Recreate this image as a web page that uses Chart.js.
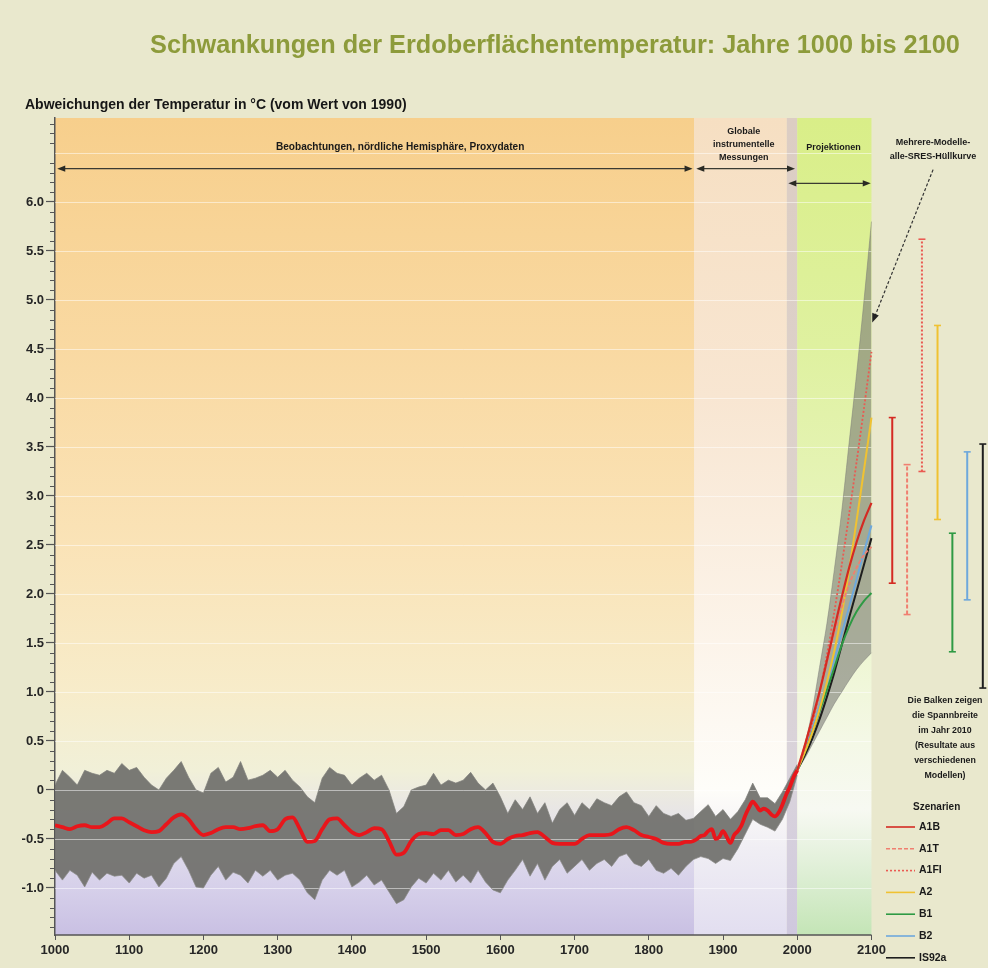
<!DOCTYPE html>
<html lang="de">
<head>
<meta charset="utf-8">
<title>Schwankungen der Erdoberflächentemperatur: Jahre 1000 bis 2100</title>
<script src="https://cdn.jsdelivr.net/npm/chart.js@4.4.1/dist/chart.umd.min.js"></script>
<style>
  html, body { margin: 0; padding: 0; background: #e9e8cd; }
  #wrap { width: 988px; height: 968px; }
</style>
</head>
<body>
<div id="wrap"><canvas id="chart" width="988" height="968"></canvas></div>
<script>
// ---------- data ----------
// Proxy / instrumental uncertainty band, every 10 years from 1000 to 2000
const bandStart = 1000, bandStep = 10;
const bandUpper = [
  0.05, 0.20, 0.13, 0.05, 0.20, 0.17, 0.15, 0.20, 0.17, 0.27,
  0.20, 0.23, 0.13, 0.05, 0.00, 0.12, 0.20, 0.29, 0.13, 0.00,
  -0.03, 0.17, 0.23, 0.08, 0.13, 0.29, 0.10, 0.12, 0.15, 0.20,
  0.13, 0.20, 0.10, 0.03, -0.07, -0.13, 0.12, 0.23, 0.17, 0.15,
  0.05, 0.12, 0.17, 0.10, 0.15, 0.00, -0.24, -0.17, 0.00, 0.03,
  0.05, 0.17, 0.05, 0.10, 0.07, 0.10, 0.18, 0.07, 0.00, 0.07,
  -0.07, -0.24, -0.10, -0.20, -0.07, -0.24, -0.13, -0.34, -0.20, -0.13,
  -0.26, -0.13, -0.20, -0.09, -0.13, -0.16, -0.07, -0.02, -0.13, -0.16,
  -0.27, -0.16, -0.24, -0.27, -0.24, -0.31, -0.29, -0.22, -0.15, -0.27,
  -0.20, -0.30, -0.22, -0.10, 0.07, -0.08, -0.08, -0.14, -0.02, 0.12,
  0.26
];
const bandLower = [
  -0.82, -0.92, -0.82, -0.87, -0.99, -0.84, -0.92, -0.85, -0.88, -0.87,
  -0.95, -0.85, -0.90, -0.87, -0.99, -0.90, -0.75, -0.68, -0.82, -0.99,
  -1.00, -0.87, -0.78, -0.92, -0.84, -0.87, -0.95, -0.82, -0.88, -0.82,
  -0.92, -0.87, -0.85, -0.92, -1.05, -1.12, -0.92, -0.82, -0.87, -0.82,
  -0.99, -0.94, -0.87, -0.97, -0.92, -1.04, -1.16, -1.12, -0.99, -0.90,
  -0.95, -0.85, -0.92, -0.82, -0.94, -0.87, -0.95, -0.82, -0.94, -1.02,
  -1.05, -0.92, -0.82, -0.71, -0.88, -0.75, -0.92, -0.78, -0.71, -0.85,
  -0.78, -0.71, -0.82, -0.75, -0.71, -0.78, -0.68, -0.65, -0.75, -0.78,
  -0.71, -0.82, -0.85, -0.80, -0.87, -0.78, -0.71, -0.68, -0.70, -0.75,
  -0.70, -0.72, -0.60, -0.45, -0.30, -0.35, -0.38, -0.42, -0.30, -0.12,
  0.15
];

// Smoothed northern-hemisphere reconstruction, every 10 years 1000–1850
const smoothStart = 1000, smoothStep = 10;
const proxySmooth = [
  -0.36, -0.38, -0.40, -0.37, -0.36, -0.38, -0.38, -0.34, -0.29, -0.29,
  -0.33, -0.37, -0.41, -0.43, -0.42, -0.35, -0.28, -0.25, -0.30, -0.40,
  -0.46, -0.44, -0.40, -0.38, -0.38, -0.40, -0.39, -0.37, -0.36, -0.42,
  -0.40, -0.30, -0.28, -0.40, -0.53, -0.52, -0.40, -0.30, -0.29, -0.36,
  -0.43, -0.46, -0.43, -0.39, -0.40, -0.52, -0.66, -0.64, -0.52, -0.45,
  -0.44, -0.45, -0.41, -0.41, -0.46, -0.45, -0.40, -0.38, -0.44, -0.53,
  -0.55, -0.50, -0.47, -0.46, -0.44, -0.43, -0.48, -0.54, -0.55, -0.55,
  -0.55, -0.50, -0.46, -0.46, -0.46, -0.45, -0.40, -0.38, -0.41, -0.46,
  -0.48, -0.50, -0.54, -0.55, -0.55, -0.53
];
// Global instrumental record, every 5 years 1855–2000
const instrStart = 1855, instrStep = 5;
const instrSmooth = [
  -0.53, -0.52, -0.50, -0.47, -0.46, -0.42, -0.40, -0.50, -0.48, -0.42,
  -0.48, -0.54, -0.46, -0.42, -0.36, -0.26, -0.18, -0.12, -0.16, -0.21,
  -0.19, -0.21, -0.25, -0.27, -0.23, -0.15, -0.05, 0.03, 0.13, 0.20
];

// Projections 2000–2100
const projYears = [2000, 2010, 2020, 2030, 2040, 2050, 2060, 2070, 2080, 2090, 2100];
const envUpper = [0.20, 0.45, 0.80, 1.25, 1.70, 2.25, 2.85, 3.55, 4.25, 5.00, 5.80];
const envLower = [0.20, 0.32, 0.46, 0.60, 0.74, 0.88, 1.00, 1.12, 1.23, 1.32, 1.40];

const scenarios = ['A1B', 'A1T', 'A1FI', 'A2', 'B1', 'B2', 'IS92a'];
const projA1B  = [0.20, 0.45, 0.72, 1.00, 1.32, 1.65, 1.97, 2.27, 2.53, 2.75, 2.93];
const projA1T  = [0.20, 0.45, 0.72, 1.00, 1.30, 1.60, 1.87, 2.10, 2.27, 2.40, 2.48];
const projA1FI = [0.20, 0.42, 0.68, 1.00, 1.38, 1.82, 2.30, 2.82, 3.35, 3.90, 4.47];
const projA2   = [0.20, 0.38, 0.58, 0.82, 1.10, 1.42, 1.80, 2.25, 2.75, 3.27, 3.80];
const projB1   = [0.20, 0.38, 0.58, 0.80, 1.02, 1.25, 1.48, 1.67, 1.82, 1.93, 2.01];
const projB2   = [0.20, 0.40, 0.62, 0.85, 1.08, 1.33, 1.60, 1.87, 2.15, 2.43, 2.70];
const projIS92a = [0.20, 0.35, 0.52, 0.72, 0.95, 1.20, 1.48, 1.76, 2.03, 2.30, 2.57];
const projections = [projA1B, projA1T, projA1FI, projA2, projB1, projB2, projIS92a];

// Model spread per scenario (range bars right of the axis)
const rangeYear = [2128, 2148, 2168, 2189, 2209, 2229, 2250];
const rangeLow  = [2.11, 1.79, 3.25, 2.76, 1.41, 1.94, 1.04];
const rangeHigh = [3.80, 3.32, 5.62, 4.74, 2.62, 3.45, 3.53];

// Axis ticks
const xTickYears = [1000, 1100, 1200, 1300, 1400, 1500, 1600, 1700, 1800, 1900, 2000, 2100];
const yTickValues = [-1.0, -0.5, 0, 0.5, 1.0, 1.5, 2.0, 2.5, 3.0, 3.5, 4.0, 4.5, 5.0, 5.5, 6.0];

// ---------- styles ----------
const FONT = '"Liberation Sans", Arial, Helvetica, sans-serif';
const scenarioStyle = {
  'A1B':   { color: '#d42a22', dash: [],     width: 2.2 },
  'A1T':   { color: '#f07f70', dash: [4, 2], width: 1.8 },
  'A1FI':  { color: '#ea5a52', dash: [2, 2], width: 1.8 },
  'A2':    { color: '#f0c232', dash: [],     width: 2.0 },
  'B1':    { color: '#2e9a44', dash: [],     width: 2.0 },
  'B2':    { color: '#6ea8dc', dash: [],     width: 2.0 },
  'IS92a': { color: '#1e1e1e', dash: [],     width: 2.0 }
};

// ---------- datasets ----------
const seq = (start, step, arr) => arr.map((v, i) => ({ x: start + i * step, y: v }));
const pairs = (xs, ys) => ys.map((v, i) => ({ x: xs[i], y: v }));

const datasets = [];
datasets.push({
  label: 'Geglättete Temperatur',
  data: seq(smoothStart, smoothStep, proxySmooth).concat(seq(instrStart, instrStep, instrSmooth)),
  borderColor: '#e8161b', borderWidth: 3.8, pointRadius: 0,
  cubicInterpolationMode: 'monotone', fill: false, order: 1
});
scenarios.forEach((s, i) => {
  const st = scenarioStyle[s];
  datasets.push({
    label: s, data: pairs(projYears, projections[i]),
    borderColor: st.color, borderDash: st.dash, borderWidth: st.width,
    pointRadius: 0, tension: 0.3, fill: false, order: 2
  });
});
scenarios.forEach((s, i) => {
  const st = scenarioStyle[s];
  datasets.push({
    label: s + ' Spannbreite',
    data: [{ x: rangeYear[i], y: rangeLow[i] }, { x: rangeYear[i], y: rangeHigh[i] }],
    borderColor: st.color, borderDash: st.dash, borderWidth: 2,
    pointStyle: 'line', pointRadius: 3.5, pointBorderWidth: 1.6,
    pointBorderColor: st.color, pointBackgroundColor: st.color,
    fill: false, order: 2, clip: false
  });
});
datasets.push({
  label: 'Hüllkurve oben', data: pairs(projYears, envUpper),
  borderColor: 'rgba(120,120,118,0.6)', borderWidth: 0.8, pointRadius: 0, tension: 0.3,
  backgroundColor: 'rgba(118,118,114,0.58)', fill: '+1', order: 5
});
datasets.push({
  label: 'Hüllkurve unten', data: pairs(projYears, envLower),
  borderColor: 'rgba(120,120,118,0.6)', borderWidth: 0.8, pointRadius: 0, tension: 0.3,
  fill: false, order: 5
});
datasets.push({
  label: 'Band oben', data: seq(bandStart, bandStep, bandUpper),
  borderColor: 'rgba(128,128,124,0.9)', borderWidth: 0.8, pointRadius: 0,
  backgroundColor: 'rgba(112,112,108,0.93)', fill: '+1', order: 6
});
datasets.push({
  label: 'Band unten', data: seq(bandStart, bandStep, bandLower),
  borderColor: 'rgba(140,140,136,0.9)', borderWidth: 0.8, pointRadius: 0,
  fill: false, order: 6
});

// ---------- background zones (value -> colour stops) ----------
const zones = [
  { from: 1000, to: 1861, stops: [[6.86, '#f7cf8c'], [4.5, '#f9d9a2'], [2.5, '#fae3b7'], [1.0, '#f7ecca'], [0.2, '#f1f0d8'], [-0.4, '#e4e1ec'], [-1.0, '#d6d0ea'], [-1.48, '#c9c0e3']] },
  { from: 1861, to: 1986, stops: [[6.86, '#f6dfc2'], [4.0, '#f8e6d2'], [1.5, '#fcf4ea'], [0.0, '#fefdf9'], [-0.6, '#f0eef4'], [-1.48, '#e2def0']] },
  { from: 1986, to: 2000, stops: [[6.86, '#dccdc3'], [3.0, '#ddd2cc'], [0.0, '#d9d3dc'], [-1.48, '#cfc8de']] },
  { from: 2000, to: 2100, stops: [[6.86, '#d9ee88'], [4.5, '#dff1a0'], [2.0, '#eaf5c6'], [0.5, '#f4f8e6'], [-0.2, '#f7f9f2'], [-0.7, '#e4f1dc'], [-1.48, '#c4e5b6']] }
];

function drawText(ctx, str, x, y, size, align, color) {
  ctx.font = 'bold ' + size + 'px ' + FONT;
  ctx.fillStyle = color || '#1a1a1a';
  ctx.textAlign = align || 'center';
  ctx.textBaseline = 'middle';
  ctx.fillText(str, x, y);
}
function arrowHead(ctx, x, y, angle, len, half) {
  ctx.save();
  ctx.translate(x, y);
  ctx.rotate(angle);
  ctx.beginPath();
  ctx.moveTo(0, 0);
  ctx.lineTo(-len, -half);
  ctx.lineTo(-len, half);
  ctx.closePath();
  ctx.fill();
  ctx.restore();
}
function doubleArrow(ctx, x1, x2, y) {
  ctx.save();
  ctx.strokeStyle = '#3a3a32'; ctx.fillStyle = '#2a2a24'; ctx.lineWidth = 1.2;
  ctx.beginPath(); ctx.moveTo(x1 + 4, y); ctx.lineTo(x2 - 4, y); ctx.stroke();
  arrowHead(ctx, x2, y, 0, 8, 3.2);
  arrowHead(ctx, x1, y, Math.PI, 8, 3.2);
  ctx.restore();
}

const decor = {
  id: 'decor',
  beforeDraw(chart) {
    const { ctx, scales: { x, y }, chartArea: ca } = chart;
    ctx.save();
    ctx.fillStyle = '#e9e8cd';
    ctx.fillRect(0, 0, chart.width, chart.height);
    zones.forEach(z => {
      const x1 = x.getPixelForValue(z.from), x2 = x.getPixelForValue(z.to);
      const g = ctx.createLinearGradient(0, ca.top, 0, ca.bottom);
      z.stops.forEach(([v, c]) => {
        const f = (y.getPixelForValue(v) - ca.top) / (ca.bottom - ca.top);
        g.addColorStop(Math.min(1, Math.max(0, f)), c);
      });
      ctx.fillStyle = g;
      ctx.fillRect(x1, ca.top, x2 - x1, ca.bottom - ca.top);
    });
    ctx.restore();
  },
  beforeDatasetsDraw(chart) {
    // faint white guide lines, drawn over the shaded bands but under the curves
    const { ctx, scales: { x, y } } = chart;
    ctx.save();
    ctx.strokeStyle = 'rgba(255,255,255,0.5)';
    ctx.lineWidth = 1;
    const xa = x.getPixelForValue(1000), xb = x.getPixelForValue(2100);
    yTickValues.concat([6.5]).forEach(v => {
      const py = Math.round(y.getPixelForValue(v)) + 0.5;
      ctx.beginPath(); ctx.moveTo(xa, py); ctx.lineTo(xb, py); ctx.stroke();
    });
    ctx.restore();
  },
  afterDraw(chart) {
    const { ctx, scales: { x, y }, chartArea: ca } = chart;
    const X = v => x.getPixelForValue(v), Y = v => y.getPixelForValue(v);
    ctx.save();

    // x axis line up to 2100
    ctx.strokeStyle = '#555'; ctx.lineWidth = 1.5;
    ctx.beginPath(); ctx.moveTo(ca.left, ca.bottom); ctx.lineTo(X(2100), ca.bottom); ctx.stroke();

    // minor ticks on the y axis
    ctx.lineWidth = 1; ctx.strokeStyle = '#555';
    for (let t = -14; t <= 68; t++) {
      if (t % 5 === 0) continue;
      const py = Math.round(Y(t / 10)) + 0.5;
      ctx.beginPath(); ctx.moveTo(ca.left - 5, py); ctx.lineTo(ca.left, py); ctx.stroke();
    }

    // titles
    drawText(ctx, 'Schwankungen der Erdoberflächentemperatur: Jahre 1000 bis 2100', 555, 46, 25.3, 'center', '#8d9b3b');
    drawText(ctx, 'Abweichungen der Temperatur in °C (vom Wert von 1990)', 25, 105, 14, 'left', '#161616');

    // period annotations
    drawText(ctx, 'Beobachtungen, nördliche Hemisphäre, Proxydaten', X(1465), Y(6.56), 10.1, 'center');
    doubleArrow(ctx, X(1003), X(1859), Y(6.34));
    ['Globale', 'instrumentelle', 'Messungen'].forEach((s, i) =>
      drawText(ctx, s, X(1928), Y(6.72 - i * 0.135), 9, 'center'));
    doubleArrow(ctx, X(1864), X(1997), Y(6.34));
    drawText(ctx, 'Projektionen', X(2049), Y(6.56), 9, 'center');
    doubleArrow(ctx, X(1988), X(2099), Y(6.19));

    drawText(ctx, 'Mehrere-Modelle-', X(2183), Y(6.61), 9, 'center');
    drawText(ctx, 'alle-SRES-Hüllkurve', X(2183), Y(6.46), 9, 'center');
    // pointer to the envelope
    const px1 = X(2183), py1 = Y(6.33), px2 = X(2101), py2 = Y(4.77);
    ctx.strokeStyle = '#333'; ctx.fillStyle = '#222'; ctx.lineWidth = 1.2;
    ctx.setLineDash([3, 2]);
    ctx.beginPath(); ctx.moveTo(px1, py1); ctx.lineTo(px2 + 3, py2 - 7); ctx.stroke();
    ctx.setLineDash([]);
    arrowHead(ctx, px2, py2, Math.atan2(py2 - py1, px2 - px1), 9, 3.5);

    // note on the range bars
    ['Die Balken zeigen', 'die Spannbreite', 'im Jahr 2010', '(Resultate aus', 'verschiedenen', 'Modellen)']
      .forEach((s, i) => drawText(ctx, s, 945, 701 + i * 15, 8.8, 'center'));

    // scenario legend
    drawText(ctx, 'Szenarien', 913, 807, 10, 'left');
    scenarios.forEach((s, i) => {
      const st = scenarioStyle[s];
      const ly = 827 + i * 21.8;
      ctx.strokeStyle = st.color; ctx.lineWidth = 1.6; ctx.setLineDash(st.dash);
      ctx.beginPath(); ctx.moveTo(886, ly); ctx.lineTo(915, ly); ctx.stroke();
      ctx.setLineDash([]);
      drawText(ctx, s, 919, ly, 10.5, 'left');
    });
    ctx.restore();
  }
};

new Chart(document.getElementById('chart'), {
  type: 'line',
  data: { datasets },
  options: {
    responsive: false,
    animation: false,
    events: [],
    layout: { autoPadding: false, padding: { top: 118, right: 0, bottom: 0, left: 0 } },
    plugins: {
      legend: { display: false },
      tooltip: { enabled: false },
      title: { display: false },
      filler: { drawTime: 'beforeDatasetsDraw', propagate: false }
    },
    scales: {
      x: {
        type: 'linear', min: 1000, max: 2257,
        afterBuildTicks: s => { s.ticks = xTickYears.map(v => ({ value: v })); },
        afterFit: s => { s.height = 33; },
        ticks: { font: { family: FONT, size: 13, weight: 'bold' }, color: '#262626', padding: 3, maxRotation: 0, autoSkip: false, callback: v => String(v) },
        grid: { drawOnChartArea: false, drawTicks: true, tickLength: 5, tickColor: '#555' },
        border: { display: false }
      },
      y: {
        type: 'linear', min: -1.48, max: 6.857,
        afterBuildTicks: s => { s.ticks = yTickValues.map(v => ({ value: v })); },
        afterFit: s => { s.width = 55; },
        ticks: { font: { family: FONT, size: 13, weight: 'bold' }, color: '#262626', padding: 2, autoSkip: false, callback: v => (v === 0 ? '0' : v.toFixed(1)) },
        grid: { drawOnChartArea: false, drawTicks: true, tickLength: 9, tickColor: '#555', tickWidth: 1.2 },
        border: { display: true, color: '#555', width: 1.5 }
      }
    }
  },
  plugins: [decor]
});
</script>
</body>
</html>
